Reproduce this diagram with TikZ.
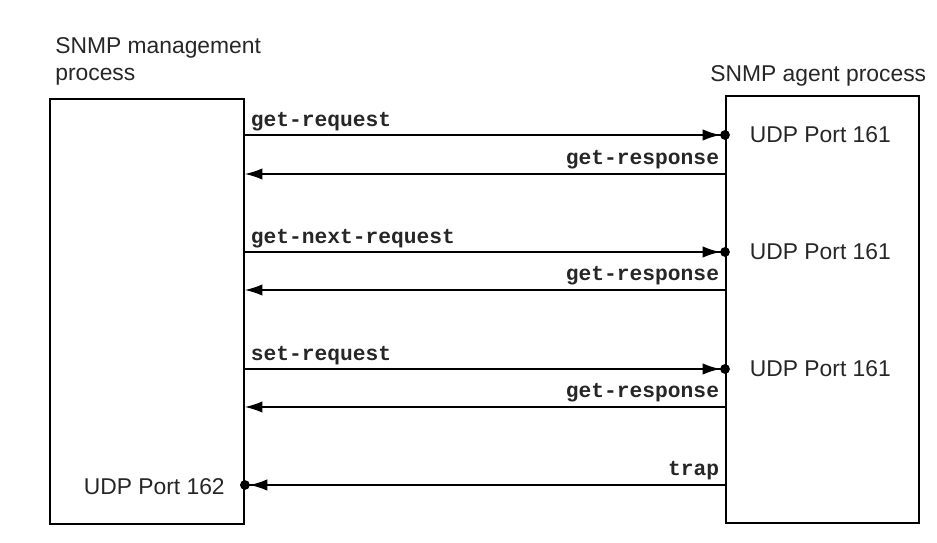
\documentclass[tikz,border=0pt]{standalone}
\usepackage{fontspec}
\setmainfont{Liberation Sans}
\setmonofont{Liberation Mono}
\usetikzlibrary{arrows.meta}
\begin{document}
\begin{tikzpicture}[x=0.02cm,y=-0.02cm,
  proc/.style={draw,line width=1.1pt,inner sep=0pt},
  port/.style={font=\fontsize{13}{15.3}\selectfont,text=black!85,inner sep=0pt},
  msg/.style={font=\ttfamily\bfseries\fontsize{12.1}{14}\selectfont,text=black!85,inner sep=0pt},
  req/.style={line width=0.8pt,-{Latex[length=10pt,width=6.5pt,sep=0pt]Circle[length=5.5pt,sep=0pt]},shorten >=-2.75pt},
  rsp/.style={line width=0.8pt,-{Latex[length=10pt,width=6.5pt]}}]
\useasboundingbox (0,0) rectangle (937,543);
%\draw[very thin,gray,step=50] (0,0) grid (937,543);
\node[proc,minimum width=3.88cm,minimum height=8.5cm,anchor=north west] (mgr) at (49,98) {};
\node[proc,minimum width=3.86cm,minimum height=8.54cm,anchor=north west] (agt) at (725,95) {};
\node[port,anchor=north west,align=left] (mgrtitle) at (55,37) {SNMP management\\process};
\node[port,anchor=base west] (agttitle) at (710,82) {SNMP agent process};
\foreach \n/\y in {1/135,2/174,3/252,4/290,5/369,6/407,7/485}{
  \coordinate (m\n) at (mgr.east |- 0,\y);
  \coordinate (a\n) at (agt.west |- 0,\y);
}
\draw[req] (m1) -- (a1) node[msg,at start,anchor=base west,xshift=3pt,yshift=5pt] {get-request};
\draw[rsp] (a2) -- (m2) node[msg,at start,anchor=base east,xshift=-3pt,yshift=5.5pt] {get-response};
\draw[req] (m3) -- (a3) node[msg,at start,anchor=base west,xshift=3pt,yshift=5pt] {get-next-request};
\draw[rsp] (a4) -- (m4) node[msg,at start,anchor=base east,xshift=-3pt,yshift=5.5pt] {get-response};
\draw[req] (m5) -- (a5) node[msg,at start,anchor=base west,xshift=3pt,yshift=5pt] {set-request};
\draw[rsp] (a6) -- (m6) node[msg,at start,anchor=base east,xshift=-3pt,yshift=5.5pt] {get-response};
\draw[req] (a7) -- (m7) node[msg,at start,anchor=base east,xshift=-3pt,yshift=5.5pt] {trap};
\node[port,anchor=base west] (p1) at ([xshift=14pt,yshift=-4.5pt]a1) {UDP Port 161};
\node[port,anchor=base west] (p3) at ([xshift=14pt,yshift=-4.5pt]a3) {UDP Port 161};
\node[port,anchor=base west] (p5) at ([xshift=14pt,yshift=-4.5pt]a5) {UDP Port 161};
\node[port,anchor=base east] (p7) at ([xshift=-11.3pt,yshift=-5.5pt]m7) {UDP Port 162};
\end{tikzpicture}
\end{document}
